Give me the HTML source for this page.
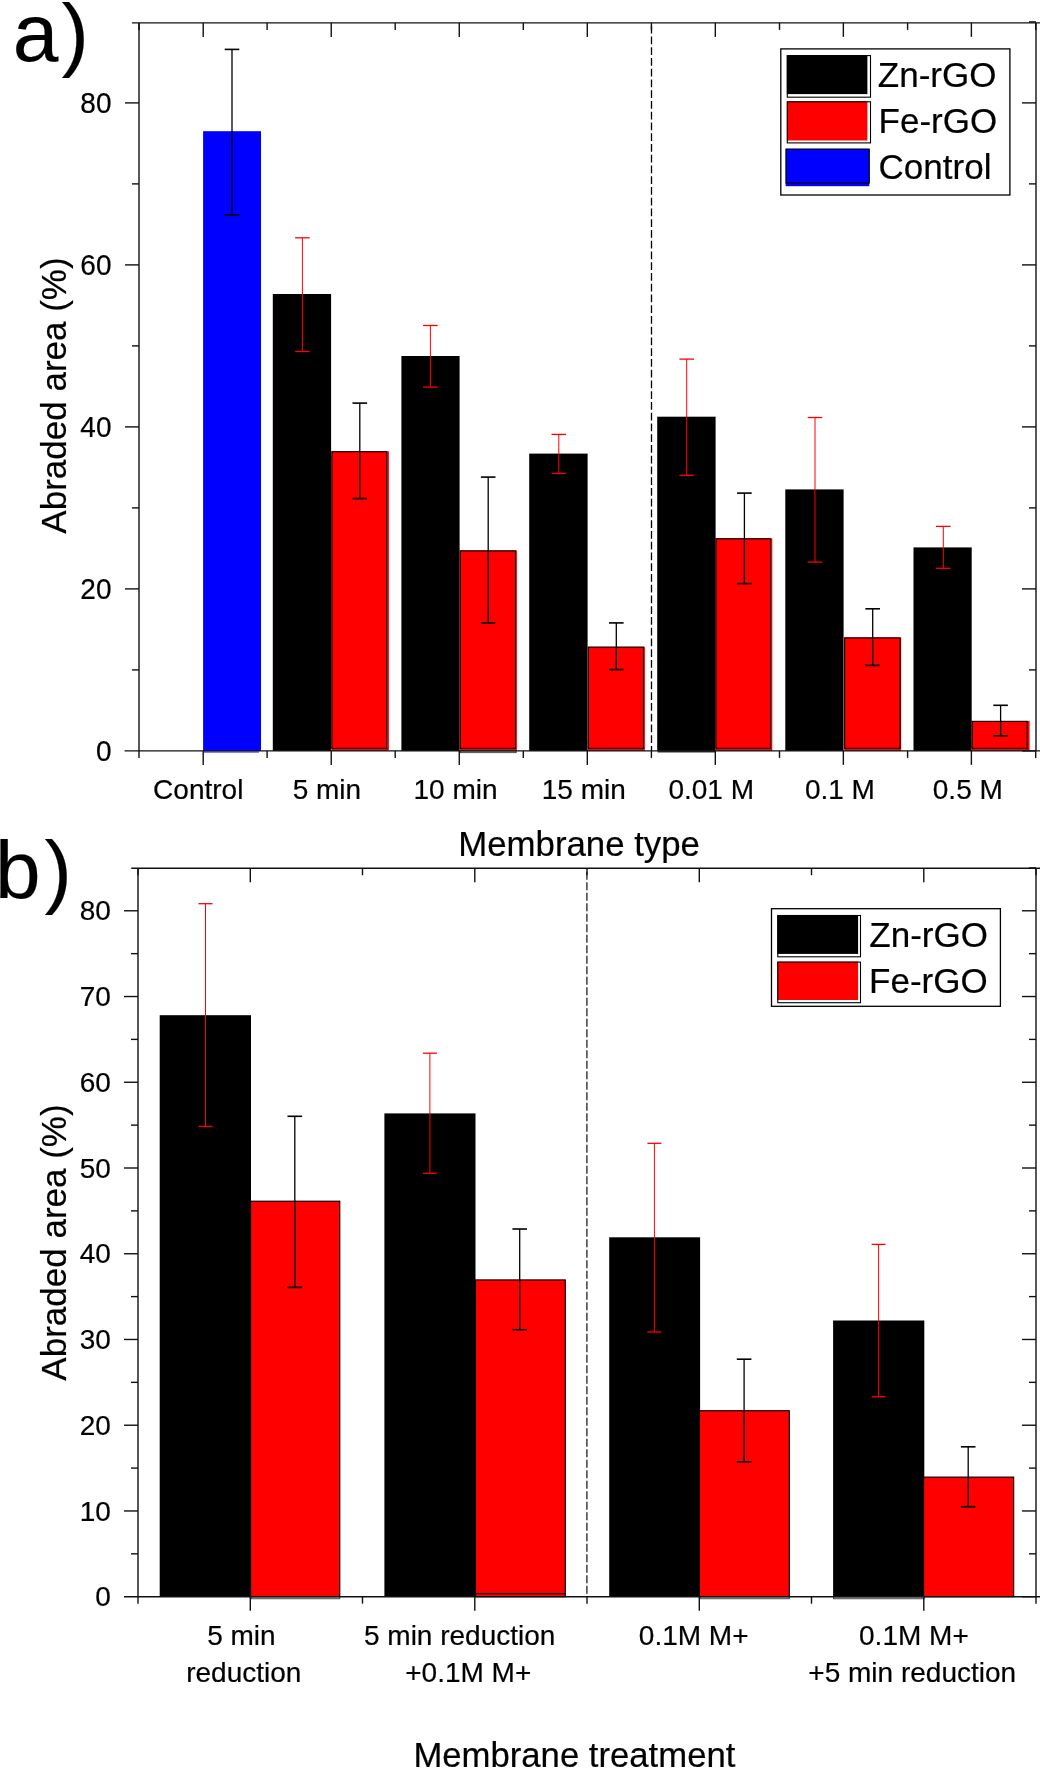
<!DOCTYPE html>
<html><head><meta charset="utf-8"><title>Abraded area chart</title>
<style>
html,body{margin:0;padding:0;background:#fff;}
body{width:1040px;height:1768px;overflow:hidden;}
svg{display:block;will-change:transform;}
text{font-family:"Liberation Sans", sans-serif;fill:#000;stroke:#000;stroke-width:0.2px;}
</style></head>
<body>
<svg width="1040" height="1768" viewBox="0 0 1040 1768">
<rect x="0" y="0" width="1040" height="1768" fill="#fff"/>
<rect x="203.1" y="131.2" width="57.9" height="619.70" fill="#00f"/>
<line x1="203.1" y1="752.0" x2="259" y2="752.0" stroke="#00f" stroke-width="1"/>
<rect x="272.80" y="294.00" width="58.30" height="456.90" fill="#000"/>
<rect x="331.40" y="451.20" width="57.50" height="299.70" fill="#f00"/>
<rect x="331.90" y="451.70" width="54.70" height="296.70" fill="none" stroke="#000" stroke-width="1.1"/>
<rect x="401.40" y="356.00" width="58.20" height="394.90" fill="#000"/>
<rect x="459.70" y="550.40" width="57.20" height="200.50" fill="#f00"/>
<rect x="460.20" y="550.90" width="55.30" height="197.50" fill="none" stroke="#000" stroke-width="1.1"/>
<rect x="529.20" y="453.60" width="58.40" height="297.30" fill="#000"/>
<rect x="587.80" y="646.70" width="57.10" height="104.20" fill="#f00"/>
<rect x="588.30" y="647.20" width="55.20" height="101.20" fill="none" stroke="#000" stroke-width="1.1"/>
<rect x="657.20" y="416.70" width="58.40" height="334.20" fill="#000"/>
<rect x="715.50" y="538.30" width="56.80" height="212.60" fill="#f00"/>
<rect x="716.00" y="538.80" width="54.50" height="209.60" fill="none" stroke="#000" stroke-width="1.1"/>
<rect x="785.30" y="489.40" width="58.30" height="261.50" fill="#000"/>
<rect x="844.20" y="637.40" width="57.00" height="113.50" fill="#f00"/>
<rect x="844.70" y="637.90" width="55.30" height="110.50" fill="none" stroke="#000" stroke-width="1.1"/>
<rect x="913.50" y="547.40" width="58.20" height="203.50" fill="#000"/>
<rect x="971.70" y="720.90" width="57.90" height="30.00" fill="#f00"/>
<rect x="972.20" y="721.40" width="55.00" height="27.00" fill="none" stroke="#000" stroke-width="1.1"/>
<rect x="657.6" y="750.90" width="57.6" height="1.6" fill="#333"/>
<rect x="460.2" y="750.90" width="56" height="1.8" fill="#bbb" stroke="#333" stroke-width="0.8"/>
<line x1="232.00" y1="49.40" x2="232.00" y2="214.80" stroke="#000" stroke-width="1.3" />
<line x1="224.70" y1="49.40" x2="239.30" y2="49.40" stroke="#000" stroke-width="1.6" />
<line x1="224.70" y1="214.80" x2="239.30" y2="214.80" stroke="#000" stroke-width="1.6" />
<line x1="302.40" y1="237.80" x2="302.40" y2="351.50" stroke="#f00" stroke-width="1.0" />
<line x1="295.10" y1="237.80" x2="309.70" y2="237.80" stroke="#f00" stroke-width="1.3" />
<line x1="295.10" y1="351.50" x2="309.70" y2="351.50" stroke="#f00" stroke-width="1.3" />
<line x1="359.80" y1="403.10" x2="359.80" y2="498.60" stroke="#000" stroke-width="1.3" />
<line x1="352.50" y1="403.10" x2="367.10" y2="403.10" stroke="#000" stroke-width="1.6" />
<line x1="352.50" y1="498.60" x2="367.10" y2="498.60" stroke="#000" stroke-width="1.6" />
<line x1="430.40" y1="325.50" x2="430.40" y2="387.10" stroke="#f00" stroke-width="1.0" />
<line x1="423.10" y1="325.50" x2="437.70" y2="325.50" stroke="#f00" stroke-width="1.3" />
<line x1="423.10" y1="387.10" x2="437.70" y2="387.10" stroke="#f00" stroke-width="1.3" />
<line x1="488.20" y1="477.10" x2="488.20" y2="622.90" stroke="#000" stroke-width="1.3" />
<line x1="480.90" y1="477.10" x2="495.50" y2="477.10" stroke="#000" stroke-width="1.6" />
<line x1="480.90" y1="622.90" x2="495.50" y2="622.90" stroke="#000" stroke-width="1.6" />
<line x1="558.80" y1="434.40" x2="558.80" y2="473.40" stroke="#f00" stroke-width="1.0" />
<line x1="551.50" y1="434.40" x2="566.10" y2="434.40" stroke="#f00" stroke-width="1.3" />
<line x1="551.50" y1="473.40" x2="566.10" y2="473.40" stroke="#f00" stroke-width="1.3" />
<line x1="616.30" y1="622.90" x2="616.30" y2="669.60" stroke="#000" stroke-width="1.3" />
<line x1="609.00" y1="622.90" x2="623.60" y2="622.90" stroke="#000" stroke-width="1.6" />
<line x1="609.00" y1="669.60" x2="623.60" y2="669.60" stroke="#000" stroke-width="1.6" />
<line x1="686.70" y1="359.10" x2="686.70" y2="475.30" stroke="#f00" stroke-width="1.0" />
<line x1="679.40" y1="359.10" x2="694.00" y2="359.10" stroke="#f00" stroke-width="1.3" />
<line x1="679.40" y1="475.30" x2="694.00" y2="475.30" stroke="#f00" stroke-width="1.3" />
<line x1="744.40" y1="493.10" x2="744.40" y2="583.60" stroke="#000" stroke-width="1.3" />
<line x1="737.10" y1="493.10" x2="751.70" y2="493.10" stroke="#000" stroke-width="1.6" />
<line x1="737.10" y1="583.60" x2="751.70" y2="583.60" stroke="#000" stroke-width="1.6" />
<line x1="815.00" y1="417.50" x2="815.00" y2="562.10" stroke="#f00" stroke-width="1.0" />
<line x1="807.70" y1="417.50" x2="822.30" y2="417.50" stroke="#f00" stroke-width="1.3" />
<line x1="807.70" y1="562.10" x2="822.30" y2="562.10" stroke="#f00" stroke-width="1.3" />
<line x1="872.70" y1="608.80" x2="872.70" y2="665.40" stroke="#000" stroke-width="1.3" />
<line x1="865.40" y1="608.80" x2="880.00" y2="608.80" stroke="#000" stroke-width="1.6" />
<line x1="865.40" y1="665.40" x2="880.00" y2="665.40" stroke="#000" stroke-width="1.6" />
<line x1="943.30" y1="526.40" x2="943.30" y2="568.30" stroke="#f00" stroke-width="1.0" />
<line x1="936.00" y1="526.40" x2="950.60" y2="526.40" stroke="#f00" stroke-width="1.3" />
<line x1="936.00" y1="568.30" x2="950.60" y2="568.30" stroke="#f00" stroke-width="1.3" />
<line x1="1000.60" y1="705.30" x2="1000.60" y2="735.80" stroke="#000" stroke-width="1.3" />
<line x1="993.30" y1="705.30" x2="1007.90" y2="705.30" stroke="#000" stroke-width="1.6" />
<line x1="993.30" y1="735.80" x2="1007.90" y2="735.80" stroke="#000" stroke-width="1.6" />
<line x1="651.5" y1="22.90" x2="651.5" y2="750.90" stroke="#000" stroke-width="1.3" stroke-dasharray="7.8 2.95" stroke-dashoffset="7.85"/>
<line x1="139.00" y1="22.90" x2="139.00" y2="750.90" stroke="#111" stroke-width="1.4" />
<line x1="1036.00" y1="22.90" x2="1036.00" y2="750.90" stroke="#111" stroke-width="1.4" />
<line x1="132.00" y1="22.90" x2="1040.00" y2="22.90" stroke="#111" stroke-width="1.4" />
<line x1="124.60" y1="750.90" x2="1040.00" y2="750.90" stroke="#111" stroke-width="1.4" />
<line x1="1022.00" y1="750.90" x2="1036.00" y2="750.90" stroke="#111" stroke-width="1.4" />
<line x1="132.00" y1="669.90" x2="139.00" y2="669.90" stroke="#111" stroke-width="1.4" />
<line x1="1029.00" y1="669.90" x2="1036.00" y2="669.90" stroke="#111" stroke-width="1.4" />
<line x1="125.00" y1="588.90" x2="139.00" y2="588.90" stroke="#111" stroke-width="1.4" />
<line x1="1022.00" y1="588.90" x2="1036.00" y2="588.90" stroke="#111" stroke-width="1.4" />
<line x1="132.00" y1="507.90" x2="139.00" y2="507.90" stroke="#111" stroke-width="1.4" />
<line x1="1029.00" y1="507.90" x2="1036.00" y2="507.90" stroke="#111" stroke-width="1.4" />
<line x1="125.00" y1="426.90" x2="139.00" y2="426.90" stroke="#111" stroke-width="1.4" />
<line x1="1022.00" y1="426.90" x2="1036.00" y2="426.90" stroke="#111" stroke-width="1.4" />
<line x1="132.00" y1="345.90" x2="139.00" y2="345.90" stroke="#111" stroke-width="1.4" />
<line x1="1029.00" y1="345.90" x2="1036.00" y2="345.90" stroke="#111" stroke-width="1.4" />
<line x1="125.00" y1="264.90" x2="139.00" y2="264.90" stroke="#111" stroke-width="1.4" />
<line x1="1022.00" y1="264.90" x2="1036.00" y2="264.90" stroke="#111" stroke-width="1.4" />
<line x1="132.00" y1="183.90" x2="139.00" y2="183.90" stroke="#111" stroke-width="1.4" />
<line x1="1029.00" y1="183.90" x2="1036.00" y2="183.90" stroke="#111" stroke-width="1.4" />
<line x1="125.00" y1="102.90" x2="139.00" y2="102.90" stroke="#111" stroke-width="1.4" />
<line x1="1022.00" y1="102.90" x2="1036.00" y2="102.90" stroke="#111" stroke-width="1.4" />
<line x1="1029.00" y1="21.90" x2="1036.00" y2="21.90" stroke="#111" stroke-width="1.4" />
<line x1="203.20" y1="750.90" x2="203.20" y2="764.90" stroke="#111" stroke-width="1.4" />
<line x1="203.20" y1="22.90" x2="203.20" y2="36.90" stroke="#111" stroke-width="1.4" />
<line x1="331.23" y1="750.90" x2="331.23" y2="764.90" stroke="#111" stroke-width="1.4" />
<line x1="331.23" y1="22.90" x2="331.23" y2="36.90" stroke="#111" stroke-width="1.4" />
<line x1="459.26" y1="750.90" x2="459.26" y2="764.90" stroke="#111" stroke-width="1.4" />
<line x1="459.26" y1="22.90" x2="459.26" y2="36.90" stroke="#111" stroke-width="1.4" />
<line x1="587.29" y1="750.90" x2="587.29" y2="764.90" stroke="#111" stroke-width="1.4" />
<line x1="587.29" y1="22.90" x2="587.29" y2="36.90" stroke="#111" stroke-width="1.4" />
<line x1="715.32" y1="750.90" x2="715.32" y2="764.90" stroke="#111" stroke-width="1.4" />
<line x1="715.32" y1="22.90" x2="715.32" y2="36.90" stroke="#111" stroke-width="1.4" />
<line x1="843.35" y1="750.90" x2="843.35" y2="764.90" stroke="#111" stroke-width="1.4" />
<line x1="843.35" y1="22.90" x2="843.35" y2="36.90" stroke="#111" stroke-width="1.4" />
<line x1="971.38" y1="750.90" x2="971.38" y2="764.90" stroke="#111" stroke-width="1.4" />
<line x1="971.38" y1="22.90" x2="971.38" y2="36.90" stroke="#111" stroke-width="1.4" />
<line x1="139.00" y1="750.90" x2="139.00" y2="757.90" stroke="#111" stroke-width="1.4" />
<line x1="139.00" y1="22.90" x2="139.00" y2="29.90" stroke="#111" stroke-width="1.4" />
<line x1="267.10" y1="750.90" x2="267.10" y2="757.90" stroke="#111" stroke-width="1.4" />
<line x1="267.10" y1="22.90" x2="267.10" y2="29.90" stroke="#111" stroke-width="1.4" />
<line x1="395.20" y1="750.90" x2="395.20" y2="757.90" stroke="#111" stroke-width="1.4" />
<line x1="395.20" y1="22.90" x2="395.20" y2="29.90" stroke="#111" stroke-width="1.4" />
<line x1="523.30" y1="750.90" x2="523.30" y2="757.90" stroke="#111" stroke-width="1.4" />
<line x1="523.30" y1="22.90" x2="523.30" y2="29.90" stroke="#111" stroke-width="1.4" />
<line x1="651.40" y1="750.90" x2="651.40" y2="757.90" stroke="#111" stroke-width="1.4" />
<line x1="651.40" y1="22.90" x2="651.40" y2="29.90" stroke="#111" stroke-width="1.4" />
<line x1="779.50" y1="750.90" x2="779.50" y2="757.90" stroke="#111" stroke-width="1.4" />
<line x1="779.50" y1="22.90" x2="779.50" y2="29.90" stroke="#111" stroke-width="1.4" />
<line x1="907.60" y1="750.90" x2="907.60" y2="757.90" stroke="#111" stroke-width="1.4" />
<line x1="907.60" y1="22.90" x2="907.60" y2="29.90" stroke="#111" stroke-width="1.4" />
<line x1="1035.70" y1="750.90" x2="1035.70" y2="757.90" stroke="#111" stroke-width="1.4" />
<line x1="1035.70" y1="22.90" x2="1035.70" y2="29.90" stroke="#111" stroke-width="1.4" />
<text transform="translate(111.50,761.00) scale(1.0,1.05)" font-size="28" text-anchor="end">0</text>
<text transform="translate(111.50,599.00) scale(1.0,1.05)" font-size="28" text-anchor="end">20</text>
<text transform="translate(111.50,437.00) scale(1.0,1.05)" font-size="28" text-anchor="end">40</text>
<text transform="translate(111.50,275.00) scale(1.0,1.05)" font-size="28" text-anchor="end">60</text>
<text transform="translate(111.50,113.00) scale(1.0,1.05)" font-size="28" text-anchor="end">80</text>
<text x="198.25" y="798.75" font-size="28" text-anchor="middle" >Control</text>
<text x="326.90" y="798.75" font-size="28" text-anchor="middle" >5 min</text>
<text x="455.50" y="798.75" font-size="28" text-anchor="middle" >10 min</text>
<text x="583.75" y="798.75" font-size="28" text-anchor="middle" >15 min</text>
<text x="711.20" y="798.75" font-size="28" text-anchor="middle" >0.01 M</text>
<text x="839.90" y="798.75" font-size="28" text-anchor="middle" >0.1 M</text>
<text x="967.80" y="798.75" font-size="28" text-anchor="middle" >0.5 M</text>
<text x="579.10" y="855.60" font-size="34.8" text-anchor="middle" >Membrane type</text>
<text x="0.00" y="0.00" font-size="35" text-anchor="middle" transform="translate(66,395.5) rotate(-90)">Abraded area (%)</text>
<text x="12.70" y="60.60" font-size="82" text-anchor="start" >a<tspan dx="3.2">)</tspan></text>
<rect x="780.8" y="48.9" width="229.1" height="146.1" fill="#fff" stroke="#000" stroke-width="1.3"/>
<rect x="786.8" y="55.1" width="80.6" height="39" fill="#000"/>
<rect x="787.3" y="55.6" width="83.2" height="41.6" fill="none" stroke="#000" stroke-width="1.1"/>
<rect x="786.8" y="101.3" width="80.6" height="39.2" fill="#f00"/>
<rect x="787.3" y="101.8" width="83.2" height="41.1" fill="none" stroke="#000" stroke-width="1.1"/>
<rect x="785.6" y="148.7" width="83.7" height="37.5" fill="#00f"/>
<rect x="786.1" y="149.2" width="83.2" height="33.8" fill="none" stroke="#000" stroke-width="1.1"/>
<text x="877.80" y="87.40" font-size="35" text-anchor="start" >Zn-rGO</text>
<text x="878.60" y="133.00" font-size="35" text-anchor="start" >Fe-rGO</text>
<text x="878.60" y="178.70" font-size="35" text-anchor="start" >Control</text>
<rect x="159.70" y="1015.20" width="91.30" height="581.50" fill="#000"/>
<rect x="250.60" y="1201.20" width="89.20" height="395.50" fill="#f00" stroke="#000" stroke-width="1.1"/>
<rect x="384.40" y="1113.40" width="91.10" height="483.30" fill="#000"/>
<rect x="475.50" y="1279.90" width="89.80" height="316.80" fill="#f00" stroke="#000" stroke-width="1.1"/>
<rect x="609.20" y="1237.30" width="90.90" height="359.40" fill="#000"/>
<rect x="699.40" y="1410.70" width="89.90" height="186.00" fill="#f00" stroke="#000" stroke-width="1.1"/>
<rect x="833.10" y="1320.50" width="91.20" height="276.20" fill="#000"/>
<rect x="923.60" y="1477.10" width="90.10" height="119.60" fill="#f00" stroke="#000" stroke-width="1.1"/>
<line x1="475.5" y1="1593.6" x2="565.3" y2="1593.6" stroke="#000" stroke-width="1.1"/>
<rect x="251.1" y="1596.70" width="88.7" height="2.1" fill="#bbb" stroke="#333" stroke-width="0.8"/>
<rect x="699.9" y="1596.70" width="89.4" height="2.1" fill="#bbb" stroke="#333" stroke-width="0.8"/>
<rect x="833.6" y="1596.70" width="90.6" height="2.1" fill="#bbb" stroke="#333" stroke-width="0.8"/>
<line x1="205.50" y1="903.70" x2="205.50" y2="1126.40" stroke="#f00" stroke-width="1.0" />
<line x1="198.50" y1="903.70" x2="212.50" y2="903.70" stroke="#f00" stroke-width="1.3" />
<line x1="198.50" y1="1126.40" x2="212.50" y2="1126.40" stroke="#f00" stroke-width="1.3" />
<line x1="294.80" y1="1116.30" x2="294.80" y2="1287.40" stroke="#000" stroke-width="1.3" />
<line x1="287.50" y1="1116.30" x2="302.10" y2="1116.30" stroke="#000" stroke-width="1.6" />
<line x1="287.50" y1="1287.40" x2="302.10" y2="1287.40" stroke="#000" stroke-width="1.6" />
<line x1="429.90" y1="1053.20" x2="429.90" y2="1173.30" stroke="#f00" stroke-width="1.0" />
<line x1="422.90" y1="1053.20" x2="436.90" y2="1053.20" stroke="#f00" stroke-width="1.3" />
<line x1="422.90" y1="1173.30" x2="436.90" y2="1173.30" stroke="#f00" stroke-width="1.3" />
<line x1="519.70" y1="1229.00" x2="519.70" y2="1329.75" stroke="#000" stroke-width="1.3" />
<line x1="512.40" y1="1229.00" x2="527.00" y2="1229.00" stroke="#000" stroke-width="1.6" />
<line x1="512.40" y1="1329.75" x2="527.00" y2="1329.75" stroke="#000" stroke-width="1.6" />
<line x1="654.40" y1="1143.30" x2="654.40" y2="1332.00" stroke="#f00" stroke-width="1.0" />
<line x1="647.40" y1="1143.30" x2="661.40" y2="1143.30" stroke="#f00" stroke-width="1.3" />
<line x1="647.40" y1="1332.00" x2="661.40" y2="1332.00" stroke="#f00" stroke-width="1.3" />
<line x1="744.10" y1="1359.20" x2="744.10" y2="1461.80" stroke="#000" stroke-width="1.3" />
<line x1="736.80" y1="1359.20" x2="751.40" y2="1359.20" stroke="#000" stroke-width="1.6" />
<line x1="736.80" y1="1461.80" x2="751.40" y2="1461.80" stroke="#000" stroke-width="1.6" />
<line x1="878.60" y1="1244.40" x2="878.60" y2="1396.70" stroke="#f00" stroke-width="1.0" />
<line x1="871.60" y1="1244.40" x2="885.60" y2="1244.40" stroke="#f00" stroke-width="1.3" />
<line x1="871.60" y1="1396.70" x2="885.60" y2="1396.70" stroke="#f00" stroke-width="1.3" />
<line x1="968.20" y1="1446.80" x2="968.20" y2="1506.70" stroke="#000" stroke-width="1.3" />
<line x1="960.90" y1="1446.80" x2="975.50" y2="1446.80" stroke="#000" stroke-width="1.6" />
<line x1="960.90" y1="1506.70" x2="975.50" y2="1506.70" stroke="#000" stroke-width="1.6" />
<line x1="586.9" y1="868.20" x2="586.9" y2="1596.70" stroke="#222" stroke-width="1.3" stroke-dasharray="8 2.5" stroke-dashoffset="6.9"/>
<line x1="138.00" y1="868.20" x2="138.00" y2="1596.70" stroke="#111" stroke-width="1.4" />
<line x1="1036.00" y1="868.20" x2="1036.00" y2="1596.70" stroke="#111" stroke-width="1.4" />
<line x1="131.30" y1="868.20" x2="1040.00" y2="868.20" stroke="#111" stroke-width="1.4" />
<line x1="124.00" y1="1596.70" x2="1040.00" y2="1596.70" stroke="#111" stroke-width="1.4" />
<line x1="1022.00" y1="1596.70" x2="1036.00" y2="1596.70" stroke="#111" stroke-width="1.4" />
<line x1="131.00" y1="1553.83" x2="138.00" y2="1553.83" stroke="#111" stroke-width="1.4" />
<line x1="1029.00" y1="1553.83" x2="1036.00" y2="1553.83" stroke="#111" stroke-width="1.4" />
<line x1="124.00" y1="1510.96" x2="138.00" y2="1510.96" stroke="#111" stroke-width="1.4" />
<line x1="1022.00" y1="1510.96" x2="1036.00" y2="1510.96" stroke="#111" stroke-width="1.4" />
<line x1="131.00" y1="1468.09" x2="138.00" y2="1468.09" stroke="#111" stroke-width="1.4" />
<line x1="1029.00" y1="1468.09" x2="1036.00" y2="1468.09" stroke="#111" stroke-width="1.4" />
<line x1="124.00" y1="1425.22" x2="138.00" y2="1425.22" stroke="#111" stroke-width="1.4" />
<line x1="1022.00" y1="1425.22" x2="1036.00" y2="1425.22" stroke="#111" stroke-width="1.4" />
<line x1="131.00" y1="1382.35" x2="138.00" y2="1382.35" stroke="#111" stroke-width="1.4" />
<line x1="1029.00" y1="1382.35" x2="1036.00" y2="1382.35" stroke="#111" stroke-width="1.4" />
<line x1="124.00" y1="1339.48" x2="138.00" y2="1339.48" stroke="#111" stroke-width="1.4" />
<line x1="1022.00" y1="1339.48" x2="1036.00" y2="1339.48" stroke="#111" stroke-width="1.4" />
<line x1="131.00" y1="1296.61" x2="138.00" y2="1296.61" stroke="#111" stroke-width="1.4" />
<line x1="1029.00" y1="1296.61" x2="1036.00" y2="1296.61" stroke="#111" stroke-width="1.4" />
<line x1="124.00" y1="1253.74" x2="138.00" y2="1253.74" stroke="#111" stroke-width="1.4" />
<line x1="1022.00" y1="1253.74" x2="1036.00" y2="1253.74" stroke="#111" stroke-width="1.4" />
<line x1="131.00" y1="1210.87" x2="138.00" y2="1210.87" stroke="#111" stroke-width="1.4" />
<line x1="1029.00" y1="1210.87" x2="1036.00" y2="1210.87" stroke="#111" stroke-width="1.4" />
<line x1="124.00" y1="1168.00" x2="138.00" y2="1168.00" stroke="#111" stroke-width="1.4" />
<line x1="1022.00" y1="1168.00" x2="1036.00" y2="1168.00" stroke="#111" stroke-width="1.4" />
<line x1="131.00" y1="1125.13" x2="138.00" y2="1125.13" stroke="#111" stroke-width="1.4" />
<line x1="1029.00" y1="1125.13" x2="1036.00" y2="1125.13" stroke="#111" stroke-width="1.4" />
<line x1="124.00" y1="1082.26" x2="138.00" y2="1082.26" stroke="#111" stroke-width="1.4" />
<line x1="1022.00" y1="1082.26" x2="1036.00" y2="1082.26" stroke="#111" stroke-width="1.4" />
<line x1="131.00" y1="1039.39" x2="138.00" y2="1039.39" stroke="#111" stroke-width="1.4" />
<line x1="1029.00" y1="1039.39" x2="1036.00" y2="1039.39" stroke="#111" stroke-width="1.4" />
<line x1="124.00" y1="996.52" x2="138.00" y2="996.52" stroke="#111" stroke-width="1.4" />
<line x1="1022.00" y1="996.52" x2="1036.00" y2="996.52" stroke="#111" stroke-width="1.4" />
<line x1="131.00" y1="953.65" x2="138.00" y2="953.65" stroke="#111" stroke-width="1.4" />
<line x1="1029.00" y1="953.65" x2="1036.00" y2="953.65" stroke="#111" stroke-width="1.4" />
<line x1="124.00" y1="910.78" x2="138.00" y2="910.78" stroke="#111" stroke-width="1.4" />
<line x1="1022.00" y1="910.78" x2="1036.00" y2="910.78" stroke="#111" stroke-width="1.4" />
<line x1="1029.00" y1="867.91" x2="1036.00" y2="867.91" stroke="#111" stroke-width="1.4" />
<line x1="250.30" y1="1596.70" x2="250.30" y2="1610.70" stroke="#111" stroke-width="1.4" />
<line x1="250.30" y1="868.20" x2="250.30" y2="882.20" stroke="#111" stroke-width="1.4" />
<line x1="474.80" y1="1596.70" x2="474.80" y2="1610.70" stroke="#111" stroke-width="1.4" />
<line x1="474.80" y1="868.20" x2="474.80" y2="882.20" stroke="#111" stroke-width="1.4" />
<line x1="699.30" y1="1596.70" x2="699.30" y2="1610.70" stroke="#111" stroke-width="1.4" />
<line x1="699.30" y1="868.20" x2="699.30" y2="882.20" stroke="#111" stroke-width="1.4" />
<line x1="923.80" y1="1596.70" x2="923.80" y2="1610.70" stroke="#111" stroke-width="1.4" />
<line x1="923.80" y1="868.20" x2="923.80" y2="882.20" stroke="#111" stroke-width="1.4" />
<line x1="138.00" y1="1596.70" x2="138.00" y2="1603.70" stroke="#111" stroke-width="1.4" />
<line x1="138.00" y1="868.20" x2="138.00" y2="875.20" stroke="#111" stroke-width="1.4" />
<line x1="362.50" y1="1596.70" x2="362.50" y2="1603.70" stroke="#111" stroke-width="1.4" />
<line x1="362.50" y1="868.20" x2="362.50" y2="875.20" stroke="#111" stroke-width="1.4" />
<line x1="587.00" y1="1596.70" x2="587.00" y2="1603.70" stroke="#111" stroke-width="1.4" />
<line x1="587.00" y1="868.20" x2="587.00" y2="875.20" stroke="#111" stroke-width="1.4" />
<line x1="811.50" y1="1596.70" x2="811.50" y2="1603.70" stroke="#111" stroke-width="1.4" />
<line x1="811.50" y1="868.20" x2="811.50" y2="875.20" stroke="#111" stroke-width="1.4" />
<line x1="1036.00" y1="1596.70" x2="1036.00" y2="1603.70" stroke="#111" stroke-width="1.4" />
<line x1="1036.00" y1="868.20" x2="1036.00" y2="875.20" stroke="#111" stroke-width="1.4" />
<text transform="translate(110.80,1606.40) scale(1.0,1.02)" font-size="28" text-anchor="end">0</text>
<text transform="translate(110.80,1520.66) scale(1.0,1.02)" font-size="28" text-anchor="end">10</text>
<text transform="translate(110.80,1434.92) scale(1.0,1.02)" font-size="28" text-anchor="end">20</text>
<text transform="translate(110.80,1349.18) scale(1.0,1.02)" font-size="28" text-anchor="end">30</text>
<text transform="translate(110.80,1263.44) scale(1.0,1.02)" font-size="28" text-anchor="end">40</text>
<text transform="translate(110.80,1177.70) scale(1.0,1.02)" font-size="28" text-anchor="end">50</text>
<text transform="translate(110.80,1091.96) scale(1.0,1.02)" font-size="28" text-anchor="end">60</text>
<text transform="translate(110.80,1006.22) scale(1.0,1.02)" font-size="28" text-anchor="end">70</text>
<text transform="translate(110.80,920.48) scale(1.0,1.02)" font-size="28" text-anchor="end">80</text>
<text x="241.38" y="1645.00" font-size="28" text-anchor="middle" >5 min</text>
<text x="243.75" y="1682.30" font-size="28" text-anchor="middle" >reduction</text>
<text x="459.70" y="1645.00" font-size="28" text-anchor="middle" >5 min reduction</text>
<text x="468.25" y="1682.30" font-size="28" text-anchor="middle" >+0.1M M+</text>
<text x="693.70" y="1645.00" font-size="28" text-anchor="middle" >0.1M M+</text>
<text x="913.90" y="1645.00" font-size="28" text-anchor="middle" >0.1M M+</text>
<text x="912.25" y="1682.30" font-size="28" text-anchor="middle" >+5 min reduction</text>
<text x="574.40" y="1767.00" font-size="34.7" text-anchor="middle" >Membrane treatment</text>
<text x="0.00" y="0.00" font-size="35" text-anchor="middle" transform="translate(65.6,1242.5) rotate(-90)">Abraded area (%)</text>
<text x="-5.00" y="897.60" font-size="82" text-anchor="start" >b<tspan dx="3.8">)</tspan></text>
<rect x="771.5" y="908.7" width="228.9" height="97.6" fill="#fff" stroke="#000" stroke-width="1.3"/>
<rect x="777.3" y="915" width="80.8" height="38.9" fill="#000"/>
<rect x="777.8" y="915.5" width="82.7" height="41.3" fill="none" stroke="#000" stroke-width="1.1"/>
<rect x="777.3" y="961.6" width="80.8" height="38.4" fill="#f00"/>
<rect x="777.8" y="962.1" width="82.7" height="40.6" fill="none" stroke="#000" stroke-width="1.1"/>
<text x="869.30" y="946.70" font-size="35" text-anchor="start" >Zn-rGO</text>
<text x="869.10" y="993.00" font-size="35" text-anchor="start" >Fe-rGO</text>
</svg>
</body></html>
